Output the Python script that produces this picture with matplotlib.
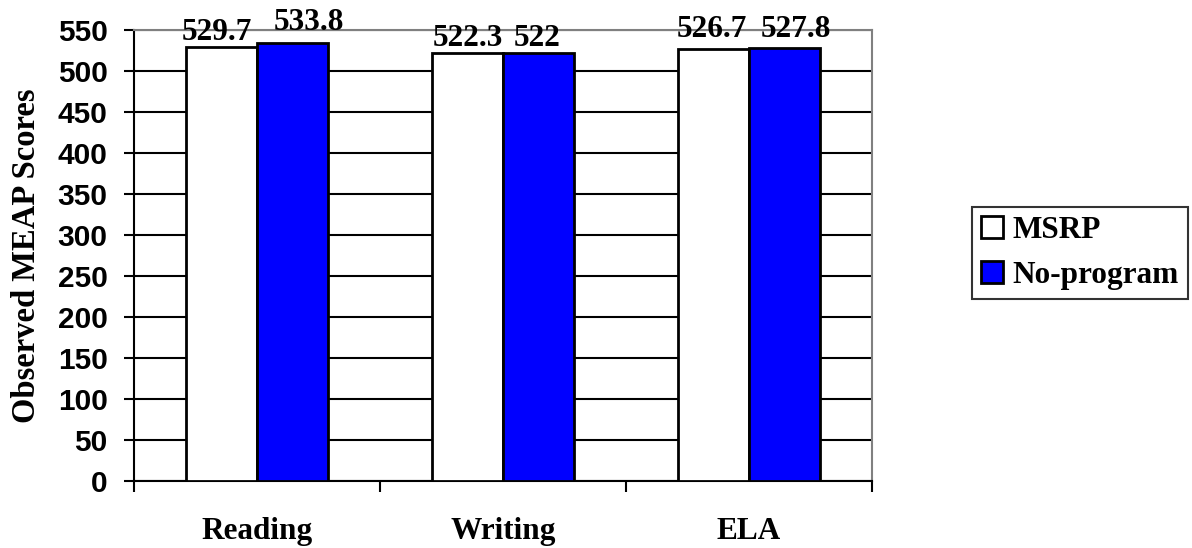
import matplotlib
matplotlib.use("Agg")
import matplotlib.pyplot as plt
import numpy as np

# Observed MEAP scores by subject
subjects = ["Reading", "Writing", "ELA"]
msrp = [529.7, 522.3, 526.7]
no_program = [533.8, 522.0, 527.8]
msrp_labels = ["529.7", "522.3", "526.7"]
no_program_labels = ["533.8", "522", "527.8"]
series_names = ["MSRP", "No-program"]
y_ticks = list(range(0, 551, 50))

SERIF = "Liberation Serif"
SANS = "Liberation Sans"

fig = plt.figure(figsize=(11.92, 5.48), dpi=100)
ax = fig.add_axes([134 / 1192, 1 - 481 / 548, (872 - 134) / 1192, (481 - 30) / 548])

x = np.arange(len(subjects))
width = 0.288

ax.set_axisbelow(True)
ax.yaxis.grid(True, color="black", linewidth=1.5)

b1 = ax.bar(x - width / 2, msrp, width, color="white", edgecolor="black",
            linewidth=2, label=series_names[0], zorder=3)
b2 = ax.bar(x + width / 2, no_program, width, color="#0000FF", edgecolor="black",
            linewidth=2, label=series_names[1], zorder=3)

# value labels above each bar, nudged apart where neighbours would collide
label_nudges = [
    [(-3.6, 4.8), (0.0, 5.0), (-1.4, 8.4)],
    [(11.5, 9.4), (-1.0, 5.0), (8.6, 8.3)],
]
for bars, labels, nudges in ((b1, msrp_labels, label_nudges[0]),
                             (b2, no_program_labels, label_nudges[1])):
    for rect, txt, off in zip(bars, labels, nudges):
        ax.annotate(txt, (rect.get_x() + rect.get_width() / 2, rect.get_height()),
                    xytext=off, textcoords="offset points",
                    ha="center", va="baseline", fontsize=22.5,
                    fontfamily=SERIF, fontweight="bold", zorder=4,
                    annotation_clip=False)

ax.set_xlim(-0.5, len(subjects) - 0.5)
ax.set_ylim(0, 550)
ax.set_yticks(y_ticks)
ax.set_yticklabels([str(v) for v in y_ticks], fontfamily=SANS,
                   fontweight="bold", fontsize=21.5)
ax.tick_params(axis="y", direction="out", length=7.5, width=1.5, pad=11.5,
               color="black")

# category labels at centres, tick marks at category boundaries
ax.set_xticks(x)
ax.set_xticklabels(subjects, fontfamily=SERIF, fontweight="bold", fontsize=22.5)
ax.set_xticks(np.arange(-0.5, len(subjects), 1.0), minor=True)
ax.tick_params(axis="x", which="major", length=0, pad=26)
ax.tick_params(axis="x", which="minor", direction="out", length=8, width=1.5,
               color="black")

ax.set_ylabel("Observed MEAP Scores", fontfamily=SERIF, fontweight="bold",
              fontsize=23.5, labelpad=11)

for side in ("left", "bottom"):
    ax.spines[side].set_color("black")
    ax.spines[side].set_linewidth(1.5)
for side in ("top", "right"):
    ax.spines[side].set_color("#808080")
    ax.spines[side].set_linewidth(1.5)

leg = fig.legend(handles=[b1, b2], loc="center left",
                 bbox_to_anchor=(972 / 1192, 1 - 253 / 548),
                 borderaxespad=0, frameon=True, fancybox=False,
                 handlelength=0.69, handleheight=0.69, handletextpad=0.3,
                 labelspacing=0.5, borderpad=0.3,
                 prop={"family": SERIF, "weight": "bold", "size": 22.5})
leg.get_frame().set_edgecolor("black")
leg.get_frame().set_linewidth(1.5)

fig.savefig("out.png", dpi=100)
